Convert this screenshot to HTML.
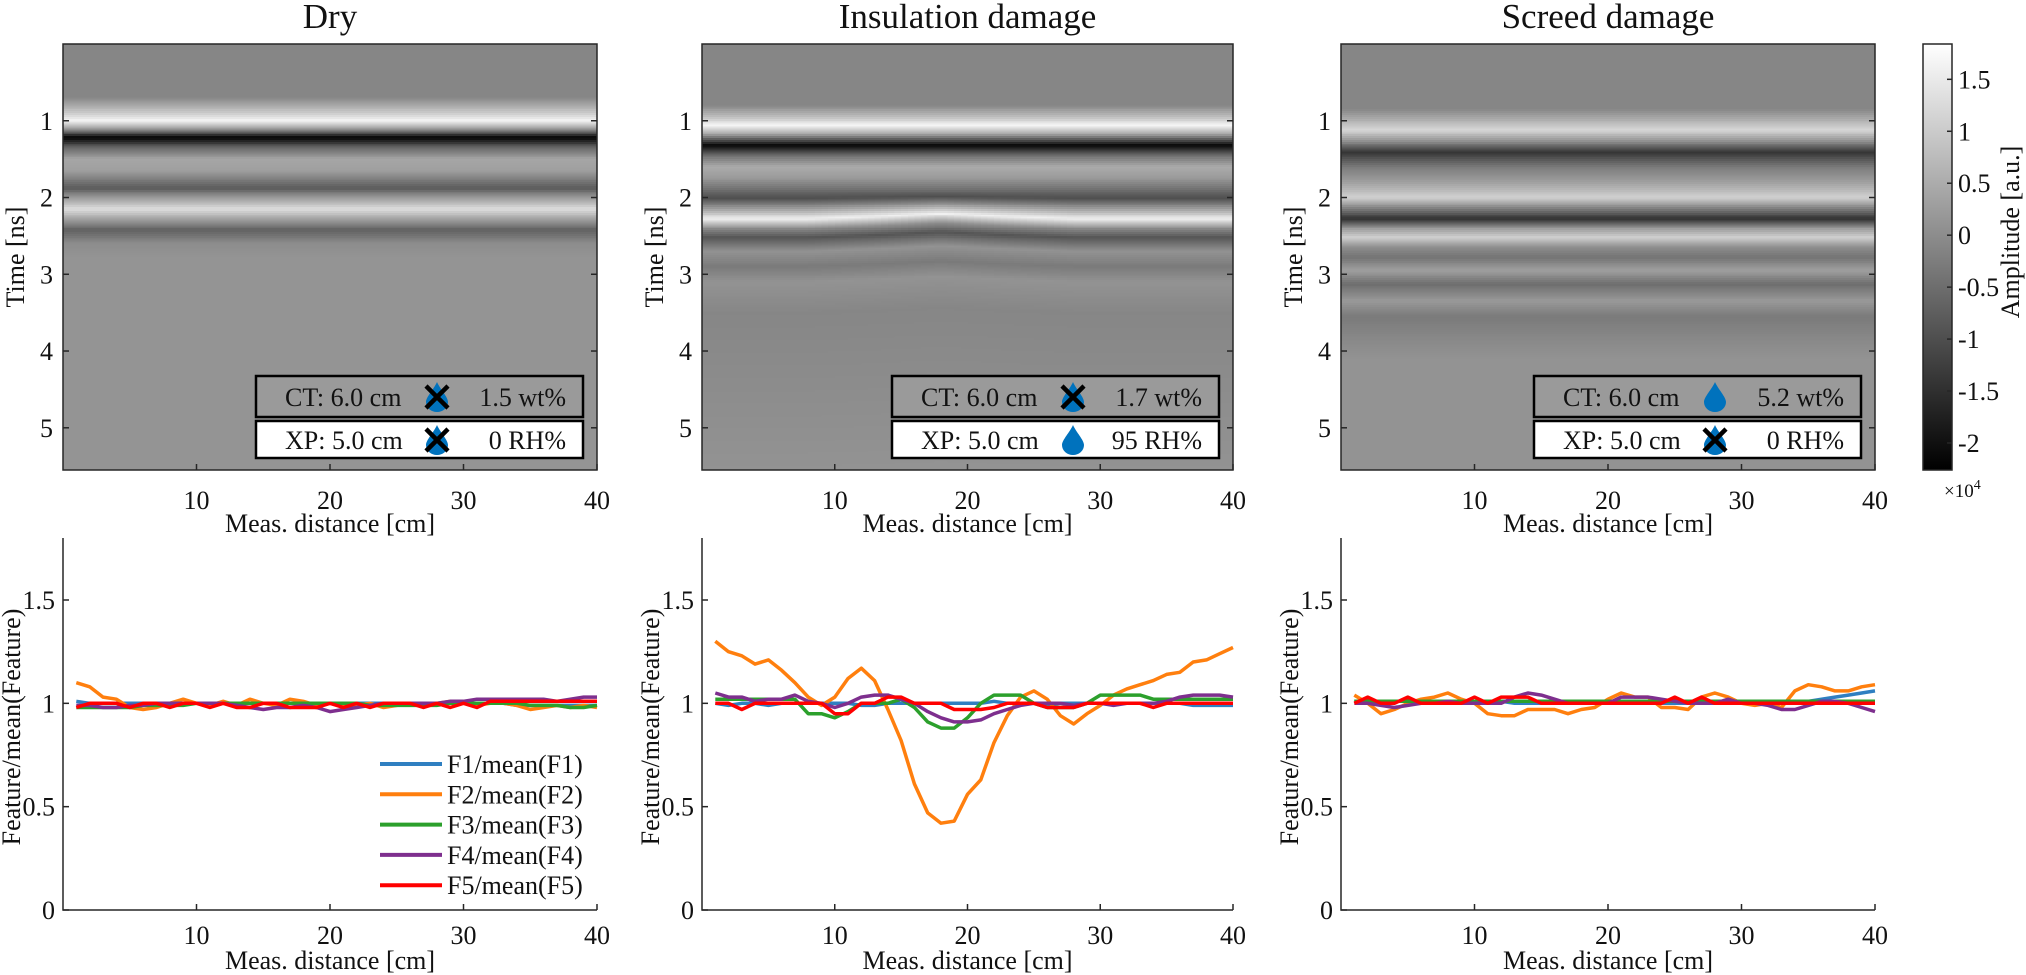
<!DOCTYPE html>
<html><head><meta charset="utf-8">
<style>
html,body{margin:0;padding:0;background:#fff;}
svg{display:block;font-family:"Liberation Serif","Times New Roman",serif;}
text{fill:#111;}
</style></head>
<body>
<svg id="fig" width="2026" height="975" viewBox="0 0 2026 975" xmlns="http://www.w3.org/2000/svg">
<defs>
<linearGradient id="cbgrad" x1="0" y1="1" x2="0" y2="0">
<stop offset="0" stop-color="#000"/><stop offset="1" stop-color="#fff"/>
</linearGradient>
</defs>
</svg>
<script>
// ---------- data ----------
const panelTitles = ["Dry", "Insulation damage", "Screed damage"];
const ctLabels = ["CT: 6.0 cm", "CT: 6.0 cm", "CT: 6.0 cm"];
const ctValues = ["1.5 wt%", "1.7 wt%", "5.2 wt%"];
const ctWet = [false, false, true];
const xpLabels = ["XP: 5.0 cm", "XP: 5.0 cm", "XP: 5.0 cm"];
const xpValues = ["0 RH%", "95 RH%", "0 RH%"];
const xpWet = [false, true, false];

const timeTicks = [1, 2, 3, 4, 5];
const distTicks = [10, 20, 30, 40];
const featTicks = [0, 0.5, 1, 1.5];
const featTickLabels = ["0", "0.5", "1", "1.5"];
const cbTicks = [-2, -1.5, -1, -0.5, 0, 0.5, 1, 1.5];
const cbTickLabels = ["-2", "-1.5", "-1", "-0.5", "0", "0.5", "1", "1.5"];

// radargram amplitude profiles (x1e4) at time knots (ns)
const dryT = [0, 0.7, 0.9, 1.0, 1.1, 1.22, 1.35, 1.5, 1.65, 1.88, 2.0, 2.15, 2.3, 2.42, 2.6, 2.8, 5.55];
const dryA = [-0.1, -0.1, 1.0, 1.7, 0.3, -2.2, -0.6, 0.4, 0.3, -0.8, 0.2, 1.3, 0.2, -0.7, 0.0, 0.12, 0.12];
const insT = [0, 0.8, 0.95, 1.06, 1.18, 1.32, 1.45, 1.6, 1.75, 2.01, 2.15, 2.28, 2.4, 2.52, 2.7, 2.9, 3.1, 3.5, 5.55];
const insA = [-0.1, -0.1, 0.8, 1.7, 0.3, -2.2, -0.5, 0.5, 0.2, -1.0, 0.3, 1.6, 0.0, -0.9, 0.1, -0.3, 0.1, -0.1, 0.1];
const insShiftX = [0, 8, 13, 18, 23, 28, 40];
const insShiftT = [0, 0, -0.03, -0.07, -0.03, 0, 0];
const scrT = [0, 0.85, 1.0, 1.12, 1.25, 1.41, 1.6, 1.8, 2.0, 2.12, 2.28, 2.4, 2.52, 2.65, 2.78, 2.95, 3.13, 3.35, 3.55, 3.8, 4.1, 5.55];
const scrA = [-0.1, -0.1, 0.6, 1.2, 0.2, -1.4, -0.3, 0.3, 1.1, 0.0, -1.5, 0.2, 1.1, 0.0, -0.4, 0.3, -0.5, 0.2, -0.3, -0.1, 0.1, 0.1];

// feature ratios, x = 1..40 cm
const dist = [1,2,3,4,5,6,7,8,9,10,11,12,13,14,15,16,17,18,19,20,21,22,23,24,25,26,27,28,29,30,31,32,33,34,35,36,37,38,39,40];
const seriesNames = ["F1/mean(F1)", "F2/mean(F2)", "F3/mean(F3)", "F4/mean(F4)", "F5/mean(F5)"];
const seriesColors = ["#2f7fc1", "#ff7f0e", "#2ca02c", "#7e2f8e", "#ff0000"];

const dryF1 = [1.01,1,1,1,1,1,1,1,1,1,1,1,1,1,1,1,1,1,1,1,1,1,1,1,1,1,1,1,1,1,1,1,1,0.99,0.99,0.99,0.99,0.99,0.99,0.99];
const dryF2 = [1.1,1.08,1.03,1.02,0.98,0.97,0.98,1.0,1.02,1.0,0.99,1.01,0.99,1.02,1.0,0.99,1.02,1.01,0.99,1.0,0.99,0.99,1.0,0.98,0.99,1.0,0.99,1.0,1.01,1.0,0.99,1.0,1.0,0.99,0.97,0.98,0.99,0.98,0.99,0.98];
const dryF3 = [0.98,0.98,0.98,0.98,0.98,0.99,0.99,0.99,0.99,1.0,1.0,1.0,1.0,1.0,1.0,1.0,1.0,1.0,1.0,1.0,1.0,1.0,0.99,0.99,0.99,0.99,0.99,0.99,1.0,1.0,1.0,1.0,1.0,1.0,0.99,0.99,0.99,0.98,0.98,0.99];
const dryF4 = [0.99,0.99,0.98,0.98,0.99,0.99,1.0,1.0,1.0,1.0,1.0,1.0,0.99,0.98,0.97,0.98,0.98,0.99,0.98,0.96,0.97,0.98,0.99,1.0,1.0,1.0,1.0,1.0,1.01,1.01,1.02,1.02,1.02,1.02,1.02,1.02,1.01,1.02,1.03,1.03];
const dryF5 = [0.98,1.0,1.0,1.0,0.98,1.0,1.0,0.98,1.0,1.0,0.98,1.0,0.98,0.98,1.0,1.0,0.98,0.98,0.98,1.0,0.98,1.0,0.98,1.0,1.0,1.0,0.98,1.0,0.98,1.0,0.98,1.01,1.01,1.01,1.01,1.01,1.01,1.01,1.01,1.01];

const insF1 = [1.0,0.99,1.0,1.0,0.99,1.0,1.0,1.0,1.0,1.0,1.0,0.99,0.99,1.0,1.0,1.0,1.0,1.0,1.0,1.0,1.0,1.01,1.0,1.0,1.0,0.99,1.0,1.0,1.0,1.0,1.0,1.0,1.0,1.0,1.0,1.0,0.99,0.99,0.99,0.99];
const insF2 = [1.30,1.25,1.23,1.19,1.21,1.16,1.10,1.03,0.99,1.03,1.12,1.17,1.11,0.97,0.82,0.61,0.47,0.42,0.43,0.56,0.63,0.81,0.94,1.03,1.06,1.02,0.94,0.90,0.95,0.99,1.04,1.07,1.09,1.11,1.14,1.15,1.20,1.21,1.24,1.27];
const insF3 = [1.02,1.02,1.02,1.02,1.02,1.02,1.02,0.95,0.95,0.93,0.96,1.0,1.0,1.0,1.02,0.98,0.91,0.88,0.88,0.93,1.0,1.04,1.04,1.04,1.0,0.98,0.98,0.98,1.0,1.04,1.04,1.04,1.04,1.02,1.02,1.02,1.02,1.02,1.02,1.02];
const insF4 = [1.05,1.03,1.03,1.01,1.02,1.02,1.04,1.01,1.0,0.98,1.0,1.03,1.04,1.04,1.02,1.0,0.96,0.93,0.91,0.91,0.92,0.95,0.97,0.99,1.0,1.0,1.0,0.99,1.0,1.0,0.99,1.0,1.0,1.0,1.01,1.03,1.04,1.04,1.04,1.03];
const insF5 = [1.0,1.0,0.97,1.0,1.0,1.0,1.0,1.0,1.0,0.95,0.95,1.0,1.0,1.03,1.03,1.0,1.0,1.0,0.97,0.97,0.97,0.98,1.0,1.0,1.0,0.98,0.98,0.98,1.0,1.0,1.0,1.0,1.0,0.98,1.0,1.0,1.0,1.0,1.0,1.0];

const scrF1 = [1.01,1.01,1.01,1.01,1.01,1.01,1.01,1.01,1.01,1.01,1.01,1.01,1.0,1.0,1.0,1.0,1.0,1.0,1.0,1.0,1.0,1.0,1.0,1.0,1.0,1.0,1.0,1.0,1.0,1.01,1.0,1.0,1.0,1.01,1.01,1.02,1.03,1.04,1.05,1.06];
const scrF2 = [1.04,1.0,0.95,0.97,1.0,1.02,1.03,1.05,1.02,1.0,0.95,0.94,0.94,0.97,0.97,0.97,0.95,0.97,0.98,1.02,1.05,1.03,1.03,0.98,0.98,0.97,1.03,1.05,1.03,1.0,0.99,1.0,0.98,1.06,1.09,1.08,1.06,1.06,1.08,1.09];
const scrF3 = [1.01,1.01,1.01,1.01,1.01,1.01,1.01,1.01,1.01,1.01,1.01,1.01,1.01,1.01,1.01,1.01,1.01,1.01,1.01,1.01,1.01,1.01,1.01,1.01,1.01,1.01,1.01,1.01,1.01,1.01,1.01,1.01,1.01,1.01,1.01,1.01,1.01,1.01,1.01,1.01];
const scrF4 = [1.0,1.0,0.99,0.98,0.99,1.0,1.0,1.01,1.0,1.0,1.0,1.0,1.03,1.05,1.04,1.02,1.0,1.0,1.0,1.0,1.03,1.03,1.03,1.02,1.01,1.0,1.0,1.0,1.02,1.0,1.0,0.99,0.97,0.97,0.99,1.01,1.01,1.0,0.98,0.96];
const scrF5 = [1.0,1.03,1.0,1.0,1.03,1.0,1.0,1.0,1.0,1.03,1.0,1.03,1.03,1.03,1.0,1.0,1.0,1.0,1.0,1.0,1.0,1.0,1.0,1.0,1.03,1.0,1.03,1.0,1.0,1.0,1.0,1.0,1.0,1.0,1.0,1.0,1.0,1.0,1.0,1.0];

// ---------- layout ----------
const NS = "http://www.w3.org/2000/svg";
const svg = document.getElementById("fig");
const panelLeft = [63, 702, 1341];
const panelRight = [597, 1233, 1875];
const hmTop = 44, hmBottom = 470, tMax = 5.55;
const lnTop = 538, lnBottom = 910, fMax = 1.8;
const cbL = 1923, cbR = 1952, cbMin = -2.26, cbMax = 1.84;

function el(tag, attrs, parent) {
  const e = document.createElementNS(NS, tag);
  for (const k in attrs) e.setAttribute(k, attrs[k]);
  (parent || svg).appendChild(e);
  return e;
}
function txt(s, attrs, parent) { const t = el("text", attrs, parent); t.textContent = s; return t; }
function interp(xs, ys, x) {
  if (x <= xs[0]) return ys[0];
  for (let i = 1; i < xs.length; i++) if (x <= xs[i]) {
    const f = (x - xs[i-1]) / (xs[i] - xs[i-1]); return ys[i-1] + f * (ys[i] - ys[i-1]);
  }
  return ys[ys.length - 1];
}
function gray(a) {
  let v = Math.round((a - cbMin) / (cbMax - cbMin) * 255); v = Math.max(0, Math.min(255, v));
  return "rgb(" + v + "," + v + "," + v + ")";
}

const profT = [dryT, insT, scrT];
const profA = [dryA, insA, scrA];
const shiftX = [null, insShiftX, null];
const shiftT = [null, insShiftT, null];
const feats = [[dryF1, dryF2, dryF3, dryF4, dryF5], [insF1, insF2, insF3, insF4, insF5], [scrF1, scrF2, scrF3, scrF4, scrF5]];

function drop(g, cx, cy, crossed) {
  const d = el("path", {d: `M${cx},${cy-15} C${cx+3},${cy-8} ${cx+11},${cy} ${cx+11},${cy+5} A11,10 0 0 1 ${cx-11},${cy+5} C${cx-11},${cy} ${cx-3},${cy-8} ${cx},${cy-15} Z`, fill: "#0072bd"}, g);
  
  
  if (crossed) {
    const x = el("path", {d: `M${cx-11},${cy-11} L${cx+11},${cy+11} M${cx+11},${cy-11} L${cx-11},${cy+11}`, stroke: "#000", "stroke-width": 4.5, fill: "none"}, g);
    
    
  }
}

for (let p = 0; p < 3; p++) {
  const L = panelLeft[p], R = panelRight[p];
  const xs = d => L + d / 40 * (R - L);
  const ts = t => hmTop + t / tMax * (hmBottom - hmTop);
  const fs = v => lnBottom - v / fMax * (lnBottom - lnTop);

  // ---- radargram ----
  const hg = el("g", {});
  
  
  txt(panelTitles[p], {x: (L + R) / 2, y: 28, "text-anchor": "middle", "font-size": 35,  });
  const dt = 0.025, rows = Math.ceil(tMax / dt);
  const cols = shiftX[p] ? 80 : 1;
  const img = el("g", {"shape-rendering": "crispEdges"}, hg);
  
  
  for (let c = 0; c < cols; c++) {
    const d0 = c * 40 / cols, d1 = (c + 1) * 40 / cols, dm = (d0 + d1) / 2;
    const sh = shiftX[p] ? interp(shiftX[p], shiftT[p], dm) : 0;
    for (let r = 0; r < rows; r++) {
      const t = r * dt + dt / 2;
      const w = Math.max(0, Math.min(1, (t - 1.9) / 0.3));
      const a = interp(profT[p], profA[p], t - sh * w);
      const rc = el("rect", {x: xs(d0), y: ts(r * dt), width: xs(d1) - xs(d0) + 0.6, height: ts(dt) - hmTop + 0.6, fill: gray(a)}, img);
      
      
    }
  }
  el("rect", {x: L, y: hmTop, width: R - L, height: hmBottom - hmTop, fill: "none", stroke: "#262626", "stroke-width": 1.5}, hg);
  timeTicks.forEach(t => {
    el("line", {x1: L, x2: L + 6, y1: ts(t), y2: ts(t), stroke: "#262626", "stroke-width": 1.5}, hg);
    el("line", {x1: R, x2: R - 6, y1: ts(t), y2: ts(t), stroke: "#262626", "stroke-width": 1.5}, hg);
    txt(String(t), {x: L - 10, y: ts(t) + 9, "text-anchor": "end", "font-size": 26,  }, hg);
  });
  distTicks.forEach(d => {
    el("line", {x1: xs(d), x2: xs(d), y1: hmBottom, y2: hmBottom - 6, stroke: "#262626", "stroke-width": 1.5}, hg);
    txt(String(d), {x: xs(d), y: 509, "text-anchor": "middle", "font-size": 26,  }, hg);
  });
  txt("Meas. distance [cm]", {x: (L + R) / 2, y: 532, "text-anchor": "middle", "font-size": 26,  }, hg);
  txt("Time [ns]", {x: 0, y: 0, "text-anchor": "middle", "font-size": 26, transform: `translate(${L - 39},257) rotate(-90)`,  }, hg);

  // legend boxes
  const bx = R - 341, bw = 327;
  const lg = el("g", {}, hg);
  
  
  el("rect", {x: bx, y: 376, width: bw, height: 41, fill: "#9a9a9a", stroke: "#000", "stroke-width": 2.5,  }, lg);
  el("rect", {x: bx, y: 421, width: bw, height: 37, fill: "#fff", stroke: "#000", "stroke-width": 2.5,  }, lg);
  txt(ctLabels[p], {x: bx + 29, y: 406, "font-size": 26,  }, lg);
  txt(ctValues[p], {x: bx + bw - 17, y: 406, "font-size": 26, "text-anchor": "end",  }, lg);
  txt(xpLabels[p], {x: bx + 29, y: 449, "font-size": 26,  }, lg);
  txt(xpValues[p], {x: bx + bw - 17, y: 449, "font-size": 26, "text-anchor": "end",  }, lg);
  drop(lg, bx + 181, 397, !ctWet[p]);
  drop(lg, bx + 181, 440, !xpWet[p]);

  // ---- feature line chart ----
  const cg = el("g", {});
  
  
  el("path", {d: `M${L},${lnTop} L${L},${lnBottom} L${R},${lnBottom}`, fill: "none", stroke: "#262626", "stroke-width": 1.5}, cg);
  featTicks.forEach((v, i) => {
    el("line", {x1: L, x2: L + 6, y1: fs(v), y2: fs(v), stroke: "#262626", "stroke-width": 1.5}, cg);
    txt(featTickLabels[i], {x: L - 8, y: fs(v) + 9, "text-anchor": "end", "font-size": 26,  }, cg);
  });
  distTicks.forEach(d => {
    el("line", {x1: xs(d), x2: xs(d), y1: lnBottom, y2: lnBottom - 6, stroke: "#262626", "stroke-width": 1.5}, cg);
    txt(String(d), {x: xs(d), y: 944, "text-anchor": "middle", "font-size": 26,  }, cg);
  });
  txt("Meas. distance [cm]", {x: (L + R) / 2, y: 969, "text-anchor": "middle", "font-size": 26,  }, cg);
  txt("Feature/mean(Feature)", {x: 0, y: 0, "text-anchor": "middle", "font-size": 26, transform: `translate(${L - 43},727) rotate(-90)`,  }, cg);
  feats[p].forEach((s, k) => {
    const d = s.map((v, i) => (i ? "L" : "M") + xs(dist[i]).toFixed(1) + "," + fs(v).toFixed(1)).join(" ");
    const ln = el("path", {d: d, fill: "none", stroke: seriesColors[k], "stroke-width": 3.5, "stroke-linejoin": "round"}, cg);
    
    
  });
  if (p === 0) {
    const leg = el("g", {}, cg);
    
    
    seriesNames.forEach((n, k) => {
      const y = 764 + k * 30.3;
      const e = el("line", {x1: 380, x2: 442, y1: y, y2: y, stroke: seriesColors[k], "stroke-width": 4}, leg);
      
      
      txt(n, {x: 447, y: y + 9, "font-size": 26,  }, leg);
    });
  }
}

// ---- colorbar ----
const cbg = el("g", {});


const cs = v => hmBottom - (v - cbMin) / (cbMax - cbMin) * (hmBottom - hmTop);
el("rect", {x: cbL, y: hmTop, width: cbR - cbL, height: hmBottom - hmTop, fill: "url(#cbgrad)", stroke: "#262626", "stroke-width": 1.5}, cbg);
cbTicks.forEach((v, i) => {
  el("line", {x1: cbR - 5, x2: cbR, y1: cs(v), y2: cs(v), stroke: "#262626", "stroke-width": 1.5}, cbg);
  txt(cbTickLabels[i], {x: cbR + 6, y: cs(v) + 9, "font-size": 26,  }, cbg);
});
const mult = txt("×10", {x: 1944, y: 497, "font-size": 19,  }, cbg);
const sup = el("tspan", {dy: -8, "font-size": 14}, mult); sup.textContent = "4";
txt("Amplitude [a.u.]", {x: 0, y: 0, "text-anchor": "middle", "font-size": 26, transform: "translate(2019,232) rotate(-90)",  }, cbg);
</script>
</body></html>
